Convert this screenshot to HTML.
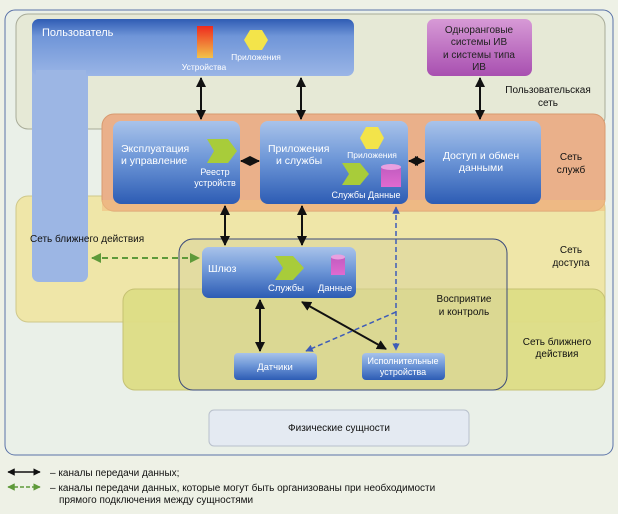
<!DOCTYPE html>
<html><head><meta charset="utf-8"><style>
body{margin:0;background:#eef1e6;}
svg{display:block;font-family:"Liberation Sans",sans-serif;}
</style></head><body>
<svg width="618" height="514" viewBox="0 0 618 514" xmlns="http://www.w3.org/2000/svg">
<defs>
<linearGradient id="bl" x1="0" y1="0" x2="0" y2="1">
<stop offset="0" stop-color="#a9c3ea"/><stop offset="0.45" stop-color="#6f98d8"/><stop offset="1" stop-color="#2d5cb4"/></linearGradient>
<linearGradient id="ub" x1="0" y1="0" x2="0" y2="1">
<stop offset="0" stop-color="#2f5cb4"/><stop offset="0.3" stop-color="#6f95d8"/><stop offset="1" stop-color="#9ab5e6"/></linearGradient>
<linearGradient id="pu" x1="0" y1="0" x2="0" y2="1">
<stop offset="0" stop-color="#d79ad6"/><stop offset="1" stop-color="#a84fb0"/></linearGradient>
<linearGradient id="dev" x1="0" y1="0" x2="0" y2="1">
<stop offset="0" stop-color="#ee2a1e"/><stop offset="1" stop-color="#f2c24a"/></linearGradient>
<linearGradient id="cyl" x1="0" y1="0" x2="0" y2="1">
<stop offset="0" stop-color="#c25cc0"/><stop offset="1" stop-color="#e06ad0"/></linearGradient>
<marker id="ah" viewBox="0 0 10 10" refX="9" refY="5" markerWidth="5" markerHeight="5" orient="auto-start-reverse"><path d="M0,0L10,5L0,10z" fill="#111"/></marker>
<marker id="ag" viewBox="0 0 10 10" refX="9" refY="5" markerWidth="5" markerHeight="5" orient="auto-start-reverse"><path d="M0,0L10,5L0,10z" fill="#5e9a3a"/></marker>
<marker id="ab" viewBox="0 0 10 10" refX="9" refY="5" markerWidth="5" markerHeight="5" orient="auto-start-reverse"><path d="M0,0L10,5L0,10z" fill="#3e5cb8"/></marker>
</defs>
<rect x="0" y="0" width="618" height="514" fill="#eef1e6"/>
<rect x="5" y="10" width="608" height="445" rx="10" fill="#eaf0e8" stroke="#5a72a8" stroke-width="1"/>
<rect x="16" y="14" width="589" height="115" rx="12" fill="#e6e9d6" stroke="#a8ab98"/>
<rect x="16" y="196" width="589" height="126" rx="12" fill="#efe6a8" stroke="#cfc88a"/>
<rect x="102" y="114" width="503" height="97" rx="12" fill="#eab08a" stroke="#d89a70"/>
<rect x="102" y="200" width="503" height="11" fill="#f0c080" opacity="0.6"/>
<rect x="123" y="289" width="482" height="101" rx="12" fill="#dede86" stroke="#c4c070" opacity="0.95"/>
<rect x="179" y="239" width="328" height="151" rx="14" fill="#d8d49a" fill-opacity="0.55" stroke="#3b4a7a" stroke-width="1"/>
<rect x="32" y="19" width="56" height="263" rx="7" fill="#9cb6e4"/>
<rect x="32" y="19" width="322" height="57" rx="7" fill="url(#ub)"/>
<rect x="36" y="70" width="50" height="10" fill="#9cb6e4"/>
<text x="42" y="36" font-size="11" fill="#fff">Пользователь</text>
<rect x="197" y="26" width="16" height="32" fill="url(#dev)"/>
<polygon points="250,30 262,30 268,40 262,50 250,50 244,40" fill="#f3e44a"/>
<text x="204" y="70" font-size="8.5" fill="#fff" text-anchor="middle">Устройства</text>
<text x="256" y="60" font-size="8.5" fill="#fff" text-anchor="middle">Приложения</text>
<rect x="427" y="19" width="105" height="57" rx="7" fill="url(#pu)"/>
<text font-size="10" fill="#222" text-anchor="middle"><tspan x="479" y="33">Одноранговые</tspan><tspan x="479" y="45">системы ИВ</tspan><tspan x="479" y="58">и системы типа</tspan><tspan x="479" y="70">ИВ</tspan></text>
<text font-size="10" fill="#111" text-anchor="middle"><tspan x="548" y="93">Пользовательская</tspan><tspan x="548" y="106">сеть</tspan></text>
<rect x="113" y="121" width="127" height="83" rx="8" fill="url(#bl)"/>
<rect x="260" y="121" width="148" height="83" rx="8" fill="url(#bl)"/>
<rect x="425" y="121" width="116" height="83" rx="8" fill="url(#bl)"/>
<text font-size="10.5" fill="#fff"><tspan x="121" y="152">Эксплуатация</tspan><tspan x="121" y="164">и управление</tspan></text>
<polygon points="207,139 228,139 237,151 228,163 207,163 214,151" fill="#a8cc3a"/>
<text font-size="9" fill="#fff" text-anchor="middle"><tspan x="215" y="175">Реестр</tspan><tspan x="215" y="186">устройств</tspan></text>
<text font-size="10.5" fill="#fff"><tspan x="268" y="152">Приложения</tspan><tspan x="276" y="164">и службы</tspan></text>
<polygon points="366,127 378,127 384,138 378,149 366,149 360,138" fill="#f3e44a"/>
<text x="372" y="158" font-size="8.5" fill="#fff" text-anchor="middle">Приложения</text>
<polygon points="342,163 360,163 369,174 360,185 342,185 349,174" fill="#a8cc3a"/>
<rect x="381" y="167" width="20" height="20" fill="url(#cyl)"/><ellipse cx="391" cy="167" rx="10" ry="3" fill="#e8a0e0"/>
<text x="366" y="198" font-size="9" fill="#fff" text-anchor="middle">Службы Данные</text>
<text font-size="10.5" fill="#fff" text-anchor="middle"><tspan x="481" y="159">Доступ и обмен</tspan><tspan x="481" y="171">данными</tspan></text>
<text font-size="10" fill="#111" text-anchor="middle"><tspan x="571" y="160">Сеть</tspan><tspan x="571" y="173">служб</tspan></text>
<text x="30" y="242" font-size="10" fill="#111">Сеть ближнего действия</text>
<text font-size="10" fill="#111" text-anchor="middle"><tspan x="571" y="253">Сеть</tspan><tspan x="571" y="266">доступа</tspan></text>
<rect x="202" y="247" width="154" height="51" rx="7" fill="url(#bl)"/>
<text x="208" y="272" font-size="10.5" fill="#fff">Шлюз</text>
<polygon points="275,256 293,256 304,268 293,280 275,280 283,268" fill="#a8cc3a"/>
<rect x="331" y="257" width="14" height="18" fill="url(#cyl)"/><ellipse cx="338" cy="257" rx="7" ry="2.5" fill="#e8a0e0"/>
<text x="286" y="291" font-size="9.5" fill="#fff" text-anchor="middle">Службы</text>
<text x="335" y="291" font-size="9.5" fill="#fff" text-anchor="middle">Данные</text>
<text font-size="10" fill="#111" text-anchor="middle"><tspan x="464" y="302">Восприятие</tspan><tspan x="464" y="315">и контроль</tspan></text>
<text font-size="10" fill="#111" text-anchor="middle"><tspan x="557" y="345">Сеть ближнего</tspan><tspan x="557" y="357">действия</tspan></text>
<rect x="234" y="353" width="83" height="27" rx="4" fill="url(#bl)"/>
<rect x="362" y="353" width="83" height="27" rx="4" fill="url(#bl)"/>
<text x="275" y="370" font-size="9.5" fill="#fff" text-anchor="middle">Датчики</text>
<text font-size="9" fill="#fff" text-anchor="middle"><tspan x="403" y="364">Исполнительные</tspan><tspan x="403" y="375">устройства</tspan></text>
<rect x="209" y="410" width="260" height="36" rx="5" fill="#e4eaf2" stroke="#b8c0cc"/>
<text x="339" y="431" font-size="10" fill="#111" text-anchor="middle">Физические сущности</text>
<g stroke="#111" stroke-width="2" fill="none">
<line x1="201" y1="78" x2="201" y2="119" marker-start="url(#ah)" marker-end="url(#ah)"/>
<line x1="301" y1="78" x2="301" y2="119" marker-start="url(#ah)" marker-end="url(#ah)"/>
<line x1="480" y1="78" x2="480" y2="119" marker-start="url(#ah)" marker-end="url(#ah)"/>
<line x1="241" y1="161" x2="259" y2="161" marker-start="url(#ah)" marker-end="url(#ah)"/>
<line x1="409" y1="161" x2="424" y2="161" marker-start="url(#ah)" marker-end="url(#ah)"/>
<line x1="225" y1="206" x2="225" y2="245" marker-start="url(#ah)" marker-end="url(#ah)"/>
<line x1="302" y1="206" x2="302" y2="245" marker-start="url(#ah)" marker-end="url(#ah)"/>
<line x1="260" y1="300" x2="260" y2="351" marker-start="url(#ah)" marker-end="url(#ah)"/>
<line x1="302" y1="302" x2="386" y2="349" marker-start="url(#ah)" marker-end="url(#ah)"/>
</g>
<line x1="92" y1="258" x2="199" y2="258" stroke="#5e9a3a" stroke-width="2" stroke-dasharray="6,4" marker-start="url(#ag)" marker-end="url(#ag)"/>
<g stroke="#3e5cb8" stroke-width="1.5" fill="none" stroke-dasharray="5,3">
<line x1="396" y1="207" x2="396" y2="350" marker-start="url(#ab)" marker-end="url(#ab)"/>
<polyline points="396,312 306,351" marker-end="url(#ab)"/>
</g>
<line x1="8" y1="472" x2="40" y2="472" stroke="#111" stroke-width="1.5" marker-start="url(#ah)" marker-end="url(#ah)"/>
<text x="50" y="476" font-size="10" fill="#111">– каналы передачи данных;</text>
<line x1="8" y1="487" x2="40" y2="487" stroke="#5e9a3a" stroke-width="1.5" stroke-dasharray="4,2" marker-start="url(#ag)" marker-end="url(#ag)"/>
<text font-size="10" fill="#111"><tspan x="50" y="491">– каналы передачи данных, которые могут быть организованы при необходимости</tspan><tspan x="59" y="503">прямого подключения между сущностями</tspan></text>
</svg>
</body></html>
